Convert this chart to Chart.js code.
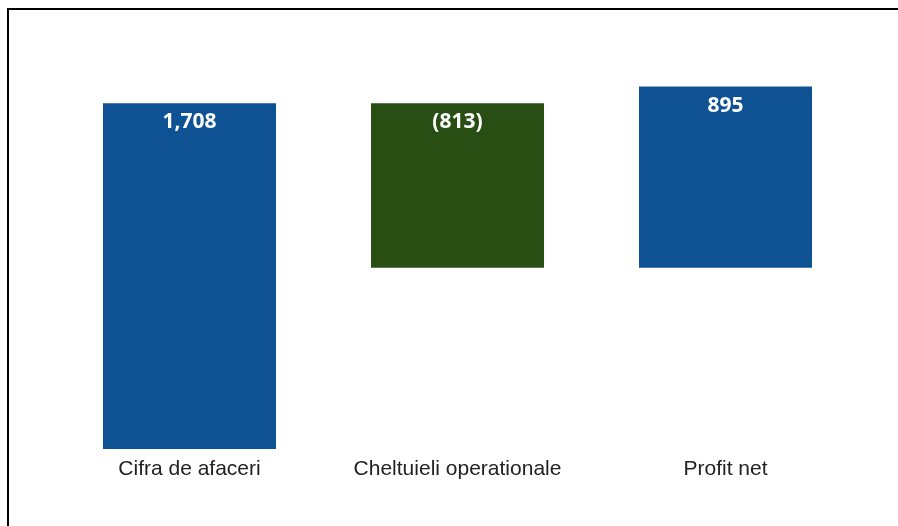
<!DOCTYPE html>
<html>
<head>
<meta charset="utf-8">
<script src="https://cdn.jsdelivr.net/npm/chart.js@4/dist/chart.umd.min.js"></script>
<style>
  html, body { margin: 0; padding: 0; background: #fff; overflow: hidden; }
  #wrap { position: absolute; left: 0; top: 0; width: 898px; height: 526px; }
  #frame { position: absolute; left: 7px; top: 8px; width: 1000px; height: 1000px; border-left: 2px solid #000; border-top: 2px solid #000; box-sizing: border-box; pointer-events: none; }
</style>
</head>
<body>
<div id="wrap"><canvas id="c" width="898" height="526"></canvas></div>
<div id="frame"></div>
<script>
const categories = ["Cifra de afaceri", "Cheltuieli operationale", "Profit net"];
const barStarts = [0, 895, 895];
const barEnds = [1708, 1708, 1790];
const valueLabels = ["1,708", "(813)", "895"];
const barColors = ["#0F5294", "#284E14", "#0F5294"];

const floating = categories.map((_, i) => [barStarts[i], barEnds[i]]);

const labelPlugin = {
  id: 'valueLabels',
  afterDatasetsDraw(chart) {
    const ctx = chart.ctx;
    const meta = chart.getDatasetMeta(0);
    ctx.save();
    ctx.fillStyle = '#ffffff';
    ctx.font = 'bold 21px "Open Sans", "DejaVu Sans", sans-serif';
    ctx.textAlign = 'center';
    ctx.textBaseline = 'middle';
    meta.data.forEach((bar, i) => {
      ctx.fillText(valueLabels[i], bar.x, bar.y + 19);
    });
    ctx.restore();
  }
};

new Chart(document.getElementById('c'), {
  type: 'bar',
  data: {
    labels: categories,
    datasets: [{
      data: floating,
      backgroundColor: barColors,
      borderWidth: 0,
      barPercentage: 0.8,
      categoryPercentage: 0.807
    }]
  },
  options: {
    responsive: false,
    animation: false,
    layout: { padding: { left: 55.5, right: 38.5, top: 44, bottom: 35.8 } },
    plugins: { legend: { display: false }, tooltip: { enabled: false } },
    scales: {
      x: {
        grid: { display: false, drawTicks: false },
        border: { display: false },
        ticks: { color: '#222', padding: 8, font: { family: '"Liberation Sans", Arial, sans-serif', size: 21 } }
      },
      y: { display: false, min: 0, max: 2000 }
    }
  },
  plugins: [labelPlugin]
});
</script>
</body>
</html>
